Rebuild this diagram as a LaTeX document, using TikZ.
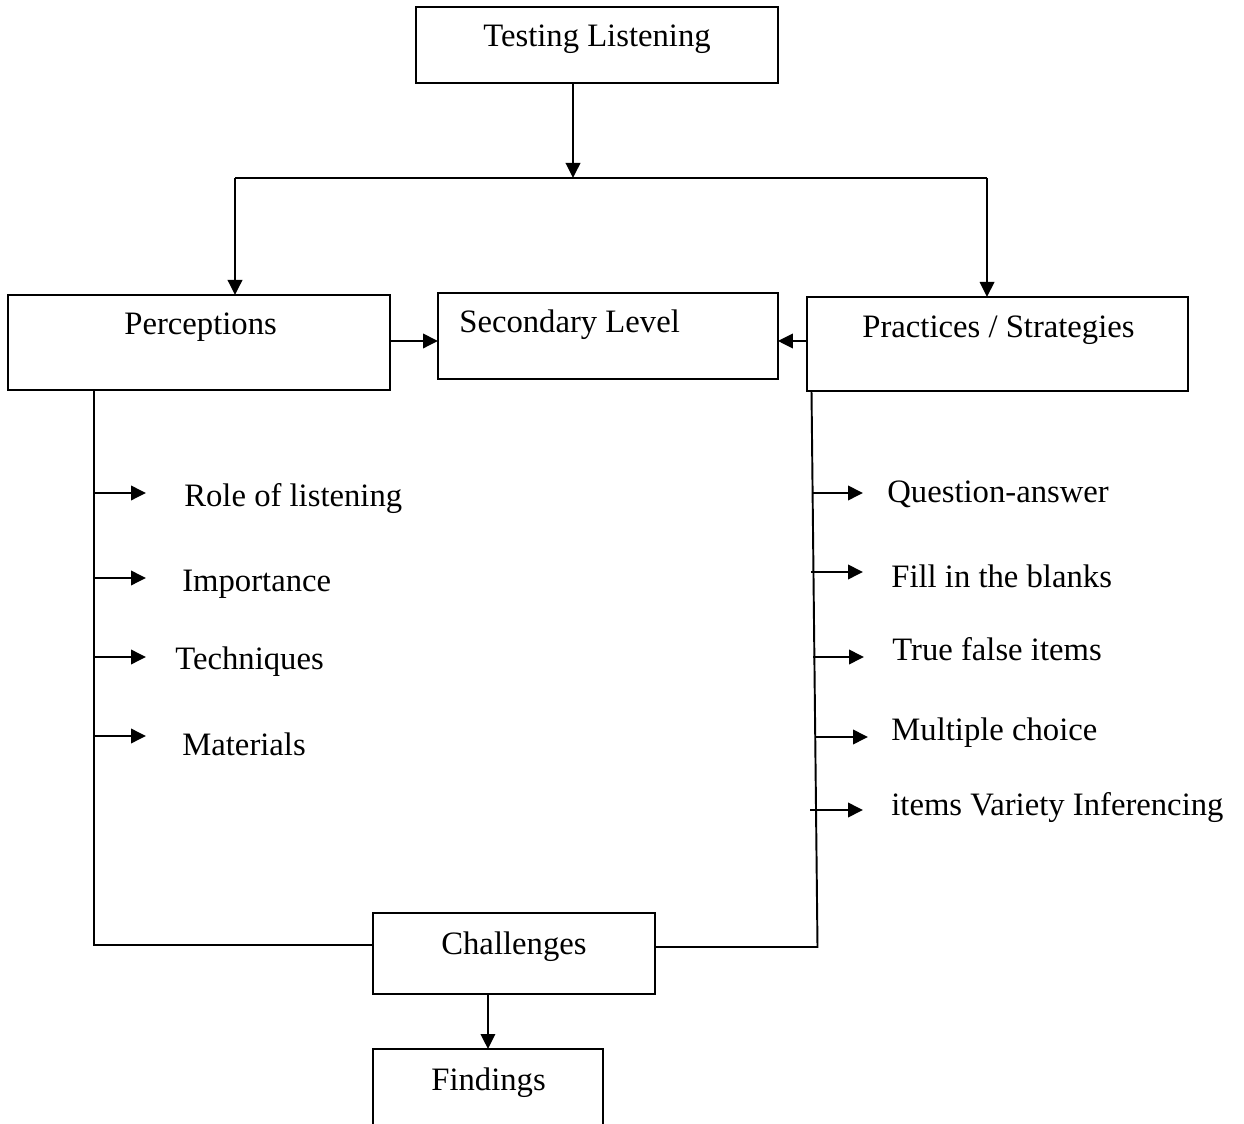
\documentclass[tikz,border=0pt]{standalone}
\usepackage{fontspec}
\setmainfont{Liberation Serif}
\usetikzlibrary{arrows.meta}
\begin{document}
\begin{tikzpicture}[x=0.02cm,y=-0.02cm,
  box/.style={draw,line width=1.1pt,rectangle,anchor=north west,inner sep=0pt,outer sep=0pt},
  lbl/.style={anchor=base west,inner sep=0pt,font=\fontsize{18.6pt}{22pt}\selectfont},
  arr/.style={-{Triangle[length=0.3cm,width=0.29cm]}},
  conn/.style={line width=1.1pt}]
\clip (0,0) rectangle (1244,1124);
\fill[white] (0,0) rectangle (1244,1124);

% boxes
\node[box,minimum width=7.24cm,minimum height=1.52cm] (tl) at (416,7) {};
\node[box,minimum width=7.64cm,minimum height=1.90cm] (perc) at (8,295) {};
\node[box,minimum width=6.80cm,minimum height=1.72cm] (sec) at (438,293) {};
\node[box,minimum width=7.62cm,minimum height=1.88cm] (prac) at (807,297) {};
\node[box,minimum width=5.64cm,minimum height=1.62cm] (chal) at (373,913) {};
\node[box,minimum width=4.60cm,minimum height=2.40cm] (find) at (373,1049) {};

% box texts
\node[lbl] (ttl) at (483,47) {Testing Listening};
\node[lbl] (tperc) at (124,335) {Perceptions};
\node[lbl] (tsec) at (459,333) {Secondary Level};
\node[lbl] (tprac) at (862,338) {Practices / Strategies};
\node[lbl] (tchal) at (441,954) {Challenges};
\node[lbl] (tfind) at (431,1090) {Findings};

% top split
\coordinate (j) at (573,178);
\coordinate (jl) at (235,178);
\coordinate (jr) at (987,178);
\draw[conn,arr] (tl.south -| j) -- (j);
\draw[conn] (jl) -- (jr);
\draw[conn,arr] (jl) -- (jl |- perc.north);
\draw[conn,arr] (jr) -- (jr |- prac.north);

% to secondary level
\coordinate (pa) at (0,341);
\draw[conn,arr] (perc.east |- pa) -- (sec.west |- pa);
\draw[conn,arr] (prac.west |- pa) -- (sec.east |- pa);

% left spine
\coordinate (lb) at (94,945);
\draw[conn] (lb |- perc.south) -- (lb) -- (lb -| chal.west);
\coordinate (la1) at (94,493);
\coordinate (la2) at (94,578);
\coordinate (la3) at (94,657);
\coordinate (la4) at (94,736);
\foreach \c in {la1,la2,la3,la4} \draw[conn,arr] (\c) -- ++(52,0);
\node[lbl] (l1) at (184,507) {Role of listening};
\node[lbl] (l2) at (182,592) {Importance};
\node[lbl] (l3) at (175,670) {Techniques};
\node[lbl] (l4) at (182,755) {Materials};

% right spine
\coordinate (rt) at (811.5,391);
\coordinate (rb) at (817.5,947);
\draw[conn] (rt) -- (rb) -- (rb -| chal.east);
\coordinate (ra1) at (812,493);
\coordinate (ra2) at (811,572);
\coordinate (ra3) at (813,657);
\coordinate (ra4) at (816,737);
\coordinate (ra5) at (810,810);
\draw[conn,arr] (ra1) -- ++(51,0);
\draw[conn,arr] (ra2) -- ++(52,0);
\draw[conn,arr] (ra3) -- ++(51,0);
\draw[conn,arr] (ra4) -- ++(52,0);
\draw[conn,arr] (ra5) -- ++(53,0);
\node[lbl] (r1) at (887,503) {Question-answer};
\node[lbl] (r2) at (891,588) {Fill in the blanks};
\node[lbl] (r3) at (892,661) {True false items};
\node[lbl] (r4) at (891,740) {Multiple choice};
\node[lbl] (r5) at (891,815) {items Variety Inferencing};

% challenges to findings
\draw[conn,arr] (find.north |- chal.south) -- (find.north);
\end{tikzpicture}
\end{document}
